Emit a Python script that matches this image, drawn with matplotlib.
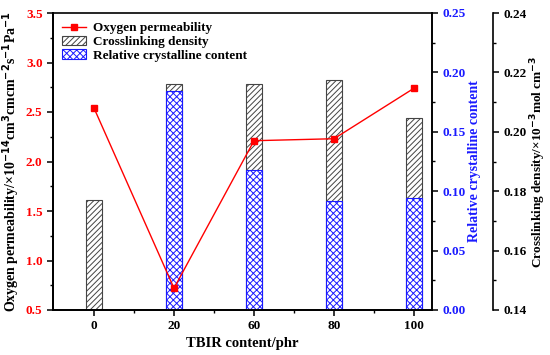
import numpy as np
import matplotlib.pyplot as plt
from matplotlib.ticker import MultipleLocator

# dati
tbir = ["0", "20", "60", "80", "100"]
permeabilita = [2.54, 0.72, 2.21, 2.23, 2.74]
reticolazione = [0.177, 0.216, 0.216, 0.2176, 0.2045]
cristallinita = [0.0, 0.184, 0.118, 0.092, 0.094]

plt.rcParams['font.family'] = ['Liberation Serif', 'DejaVu Serif']
plt.rcParams['font.weight'] = 'bold'
plt.rcParams['hatch.linewidth'] = 0.7
plt.rcParams['mathtext.default'] = 'bf'

fig = plt.figure(figsize=(5.5, 3.55), dpi=100)
ax = fig.add_axes([53/550, 45/355, 379/550, 297/355])
ax_b = ax.twinx()
ax_c = ax.twinx()

x = np.arange(len(tbir))
w = 0.2

# assi ordinati: barre sotto, linea sopra
ax_c.set_zorder(1)
ax_b.set_zorder(2)
ax.set_zorder(3)
ax.patch.set_visible(False)

bc = ax_c.bar(x, np.array(reticolazione) - 0.14, w, bottom=0.14, color='white',
              edgecolor='#444444', hatch='//////', linewidth=0.8, label='Crosslinking density')
bb = ax_b.bar(x, cristallinita, w, color='white', edgecolor='#1a1aff', hatch='xxxxx',
              linewidth=0.8, label='Relative crystalline content')
ln, = ax.plot(x, permeabilita, color='red', marker='s', markersize=5, linewidth=1,
              label='Oxygen permeability')

ax.set_xlim(-0.5125, 4.225)
ax.set_ylim(0.5, 3.5)
ax_b.set_ylim(0, 0.25)
ax_c.set_ylim(0.14, 0.24)

ax.set_xticks(x)
ax.set_xticklabels(tbir)
ax.set_xticks(x[:-1] + 0.5, minor=True)
ax.yaxis.set_major_locator(MultipleLocator(0.5))
ax.yaxis.set_minor_locator(MultipleLocator(0.25))
ax_b.yaxis.set_major_locator(MultipleLocator(0.05))
ax_b.yaxis.set_minor_locator(MultipleLocator(0.025))
ax_c.yaxis.set_major_locator(MultipleLocator(0.02))
ax_c.yaxis.set_minor_locator(MultipleLocator(0.01))

ax_c.spines['right'].set_position(('axes', 440/379))
ax_c.spines['top'].set_visible(False)
ax_b.spines['top'].set_visible(False)

for a in (ax, ax_b, ax_c):
    for s in a.spines.values():
        s.set_linewidth(1.2)
    a.tick_params(which='major', direction='out', length=4, width=1.1, labelsize=9.5)
    a.tick_params(which='minor', direction='out', length=2.5, width=1)

ax.tick_params(axis='y', labelcolor='red')
ax_b.tick_params(axis='y', labelcolor='#1a1aff')
ax_b.yaxis.set_major_formatter(plt.FormatStrFormatter('%.2f'))
ax_c.yaxis.set_major_formatter(plt.FormatStrFormatter('%.2f'))

ax.set_xlabel('TBIR content/phr', fontsize=10.5, fontweight='bold', labelpad=3)
ax.set_ylabel(r'Oxygen permeability/×10$^{-14}$cm$^{3}$cmcm$^{-2}$s$^{-1}$Pa$^{-1}$',
              fontsize=10, fontweight='bold', labelpad=3)
ax_b.set_ylabel('Relative crystalline content', fontsize=10, fontweight='bold',
                color='#1a1aff', labelpad=2)
ax_c.set_ylabel(r'Crosslinking density/×10$^{-3}$mol cm$^{-3}$', fontsize=9.5,
                fontweight='bold', labelpad=1)

ax.legend([ln, bc, bb], ['Oxygen permeability', 'Crosslinking density',
                         'Relative crystalline content'],
          loc='upper left', frameon=False, fontsize=9.5, handlelength=1.8,
          handletextpad=0.5, labelspacing=0.1, borderaxespad=0.3,
          bbox_to_anchor=(0.0, 1.0))

fig.savefig('out.png', dpi=100)
